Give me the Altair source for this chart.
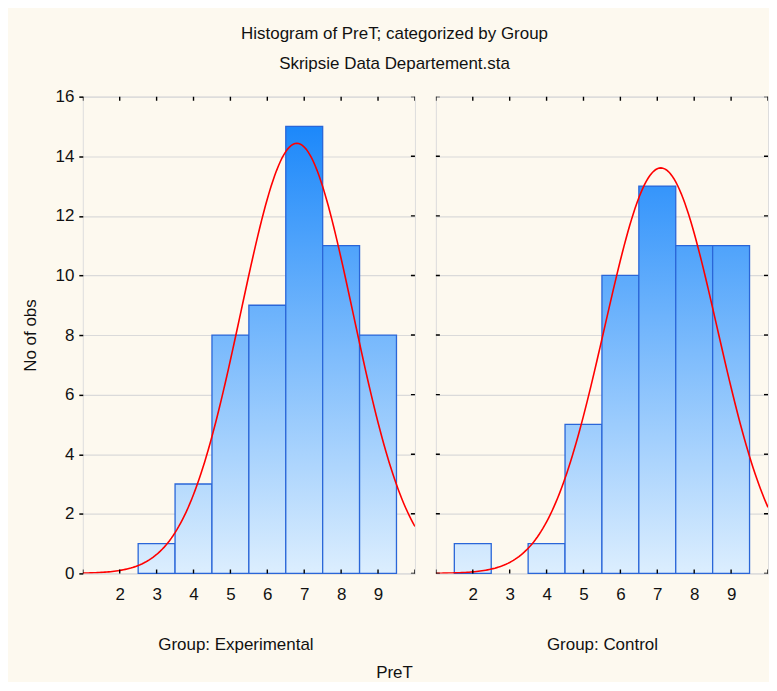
import altair as alt
import pandas as pd
import numpy as np

# ---- data ----
pret_values = [2, 3, 4, 5, 6, 7, 8, 9]
exp_counts = [0, 1, 3, 8, 9, 15, 11, 8]
ctrl_counts = [1, 0, 1, 5, 10, 13, 11, 11]
group_labels = ["Group: Experimental", "Group: Control"]
y_tick_values = [0, 2, 4, 6, 8, 10, 12, 14, 16]
x_tick_values = [1, 2, 3, 4, 5, 6, 7, 8, 9, 10]
x_label_values = [2, 3, 4, 5, 6, 7, 8, 9]

FONT = "Liberation Sans Narrow, Liberation Sans, Arial, sans-serif"
FS = 17
Y_MAX = 16
X_MIN, X_MAX = 1, 10
LIGHT = np.array([220, 238, 254])
DARK = np.array([15, 129, 250])
BAR_STROKE = "#2a66d8"
PANEL_W, PANEL_H = 333, 478


def shade(v):
    t = v / Y_MAX
    rgb = LIGHT + (DARK - LIGHT) * t
    return "#%02x%02x%02x" % tuple(int(round(c)) for c in rgb)


def panel(counts, label, first):
    xscale = alt.Scale(domain=[X_MIN, X_MAX], nice=False, zero=False)
    yscale = alt.Scale(domain=[0, Y_MAX], nice=False)
    xaxis = alt.Axis(values=x_label_values, ticks=False, domain=False, grid=False,
                     labelFontSize=FS, labelPadding=13, labelColor="#111",
                     title=label, titleFontSize=FS, titleFontWeight="normal",
                     titlePadding=34, titleColor="#111",
                     **({"titleX": 153} if first else {}))
    if first:
        yaxis = alt.Axis(values=y_tick_values, grid=True, gridColor="#dadada",
                         gridWidth=1.2, domain=False, tickSize=4, tickWidth=1.5,
                         tickColor="black", labelFontSize=FS, labelPadding=5,
                         labelColor="#111", title="No of obs", titleFontSize=FS,
                         titleFontWeight="normal", titlePadding=16, titleColor="#111")
    else:
        yaxis = alt.Axis(values=y_tick_values, grid=True, gridColor="#dadada",
                         gridWidth=1.2, domain=False, ticks=False, labels=False,
                         title=None)

    def X(f):
        return alt.X(f, type="quantitative", scale=xscale, axis=xaxis)

    def Y(f):
        return alt.Y(f, type="quantitative", scale=yscale, axis=yaxis)

    layers = []
    for v, c in zip(pret_values, counts):
        if c <= 0:
            continue
        grad = alt.LinearGradient(
            gradient="linear", x1=0, y1=0, x2=0, y2=1,
            stops=[alt.GradientStop(offset=0, color=shade(c)),
                   alt.GradientStop(offset=1, color=shade(0))])
        df = pd.DataFrame({"x0": [v - 0.5], "x1": [v + 0.5], "lo": [0], "hi": [c]})
        layers.append(
            alt.Chart(df).mark_rect(fill=grad, stroke=BAR_STROKE, strokeWidth=1.3)
            .encode(x=X("x0"), x2="x1", y=Y("lo"), y2="hi")
        )

    # fitted normal curve derived from the histogram counts
    vals = np.array(pret_values, dtype=float)
    cnt = np.array(counts, dtype=float)
    n = cnt.sum()
    mean = (vals * cnt).sum() / n
    sd = np.sqrt((cnt * (vals - mean) ** 2).sum() / (n - 1))
    xs = np.linspace(X_MIN, X_MAX, 181)
    ys = n / (sd * np.sqrt(2 * np.pi)) * np.exp(-0.5 * ((xs - mean) / sd) ** 2)
    curve_df = pd.DataFrame({"x0": xs, "lo": ys})
    layers.append(
        alt.Chart(curve_df).mark_line(color="#ff0000", strokeWidth=1.6, clip=True)
        .encode(x=X("x0"), y=Y("lo"))
    )

    # inward ticks on the frame
    xt = pd.DataFrame({"x0": x_tick_values})
    yt = pd.DataFrame({"lo": y_tick_values})
    for yd in (0, Y_MAX):
        layers.append(
            alt.Chart(xt).mark_tick(clip=True, orient="vertical", size=8,
                                    thickness=1.4, color="black", opacity=1)
            .encode(x=X("x0"), y=alt.datum(yd))
        )
    sides = (X_MAX,) if first else (X_MIN, X_MAX)
    for xd in sides:
        layers.append(
            alt.Chart(yt).mark_tick(clip=True, orient="horizontal", size=8,
                                    thickness=1.4, color="black", opacity=1)
            .encode(y=Y("lo"), x=alt.datum(xd))
        )

    return alt.layer(*layers).properties(width=PANEL_W, height=PANEL_H)


left = panel(exp_counts, group_labels[0], True)
right = panel(ctrl_counts, group_labels[1], False)

inner = alt.hconcat(left, right, spacing=19).properties(
    title=alt.TitleParams("PreT", orient="bottom", anchor="middle", frame="bounds",
                          fontSize=FS, fontWeight="normal", color="#111", offset=12)
)

chart = alt.vconcat(inner).properties(
    title=alt.TitleParams(
        "Histogram of PreT; categorized by Group",
        subtitle="Skripsie Data Departement.sta",
        anchor="middle", frame="bounds", fontSize=FS, fontWeight="normal",
        subtitleFontSize=FS, color="#111", subtitleColor="#111",
        subtitlePadding=13, offset=14,
    ),
    padding={"left": 12, "top": 16, "right": 0, "bottom": 0},
    background="#fdf9ef",
).configure_view(
    stroke="black", strokeWidth=1.5, fill="white"
).configure(
    font=FONT
)

chart.save("out.html", embed_options={"renderer": "svg", "actions": False})
